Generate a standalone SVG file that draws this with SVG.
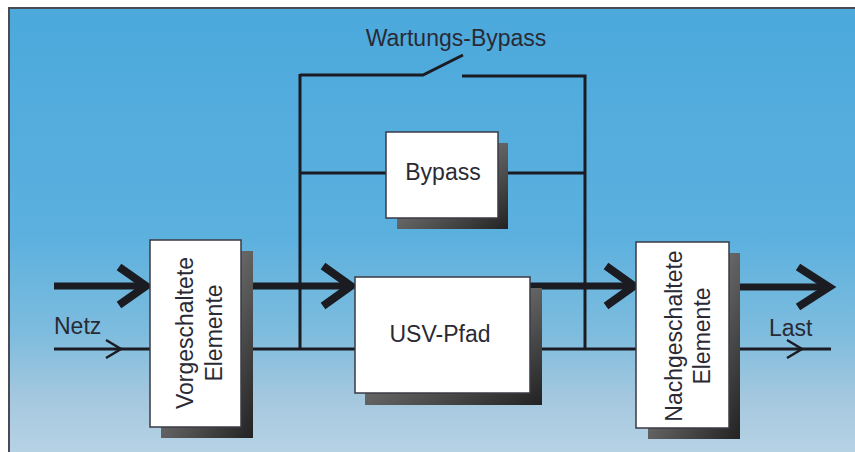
<svg xmlns="http://www.w3.org/2000/svg" width="855" height="452" viewBox="0 0 855 452">
  <defs>
    <linearGradient id="bg" x1="0" y1="0" x2="0" y2="1">
      <stop offset="0" stop-color="#4ca9dc"/>
      <stop offset="0.5" stop-color="#5bb0de"/>
      <stop offset="0.72" stop-color="#7dbcde"/>
      <stop offset="0.87" stop-color="#a5c8de"/>
      <stop offset="1" stop-color="#b8d3e6"/>
    </linearGradient>
    <linearGradient id="shadow" x1="0" y1="0" x2="1" y2="1">
      <stop offset="0" stop-color="#9a9a9a"/>
      <stop offset="0.6" stop-color="#555"/>
      <stop offset="1" stop-color="#222"/>
    </linearGradient>
    <style>
      .thin { stroke: #1b1b22; stroke-width: 3; fill: none; }
      .thick { stroke: #1b1b22; stroke-width: 7; fill: none; }
      .headThick { stroke: #1b1b22; stroke-width: 8; fill: none; stroke-linejoin: miter; stroke-miterlimit: 10; }
      .headThin { stroke: #1b1b22; stroke-width: 2.5; fill: none; stroke-linejoin: miter; stroke-miterlimit: 10; }
      .box { fill: #ffffff; stroke: #3a3a44; stroke-width: 1.5; }
      .shadow { fill: url(#shadow); }
      .lbl { font-family: "Liberation Sans", Arial, sans-serif; fill: #2a2a35; font-size: 23px; }
    </style>
  </defs>

  <rect x="0" y="0" width="855" height="452" fill="#ffffff"/>
  <rect x="9" y="8" width="850" height="450" fill="url(#bg)"/>
  <path d="M9,452 V8 H855" fill="none" stroke="#4a4a55" stroke-width="2"/>

  <g id="connectors">
    <!-- input -->
    <line class="thick" x1="54" y1="286" x2="146" y2="286"/>
    <polyline class="headThick" points="119,267 146,286 119,305"/>
    <line class="thin" x1="54" y1="349" x2="150" y2="349"/>
    <polyline class="headThin" points="106,340 121,349 106,358"/>
    <!-- pre -> USV -->
    <line class="thick" x1="241" y1="286" x2="351" y2="286"/>
    <polyline class="headThick" points="323,266 351,286 323,306"/>
    <line class="thin" x1="241" y1="349" x2="355" y2="349"/>
    <!-- left bus -->
    <line class="thin" x1="300" y1="74" x2="300" y2="350"/>
    <!-- maintenance bypass with switch -->
    <polyline class="thin" points="300,75 423,75 463,55"/>
    <polyline class="thin" points="462,76 585,76 585,350"/>
    <!-- bypass branch -->
    <line class="thin" x1="300" y1="173" x2="386" y2="173"/>
    <line class="thin" x1="498" y1="173" x2="585" y2="173"/>
    <!-- USV -> post -->
    <line class="thick" x1="530" y1="286" x2="633" y2="286"/>
    <polyline class="headThick" points="606,266 634,286 606,306"/>
    <line class="thin" x1="530" y1="349" x2="636" y2="349"/>
    <!-- output -->
    <line class="thick" x1="729" y1="287" x2="830" y2="287"/>
    <polyline class="headThick" points="798,267 829,287 798,307"/>
    <line class="thin" x1="729" y1="349" x2="831" y2="349"/>
    <polyline class="headThin" points="787,340 802,349 787,358"/>
  </g>

  <g id="vorgeschaltete">
    <rect class="shadow" x="161" y="251" width="92" height="187"/>
    <rect class="box" x="150" y="240" width="91" height="187"/>
    <text class="lbl" font-size="24" text-anchor="middle" transform="translate(193,333) rotate(-90)">Vorgeschaltete</text>
    <text class="lbl" font-size="24" text-anchor="middle" transform="translate(222,333) rotate(-90)">Elemente</text>
  </g>

  <g id="bypass">
    <rect class="shadow" x="397" y="143" width="111" height="86"/>
    <rect class="box" x="386" y="132" width="112" height="86"/>
    <text class="lbl" font-size="23.5" x="443" y="180" text-anchor="middle">Bypass</text>
  </g>

  <g id="usv">
    <rect class="shadow" x="365" y="288" width="177" height="117"/>
    <rect class="box" x="355" y="277" width="175" height="116"/>
    <text class="lbl" font-size="23.5" x="440" y="342" text-anchor="middle">USV-Pfad</text>
  </g>

  <g id="nachgeschaltete">
    <rect class="shadow" x="648" y="253" width="92" height="186"/>
    <rect class="box" x="636" y="242" width="93" height="186"/>
    <text class="lbl" font-size="24" text-anchor="middle" transform="translate(682,336) rotate(-90)">Nachgeschaltete</text>
    <text class="lbl" font-size="24" text-anchor="middle" transform="translate(710,336) rotate(-90)">Elemente</text>
  </g>

  <g id="labels">
    <text class="lbl" font-size="22" x="54" y="334">Netz</text>
    <text class="lbl" font-size="22" x="769" y="336">Last</text>
    <text class="lbl" font-size="22.5" x="456" y="46" text-anchor="middle">Wartungs-Bypass</text>
  </g>
</svg>
